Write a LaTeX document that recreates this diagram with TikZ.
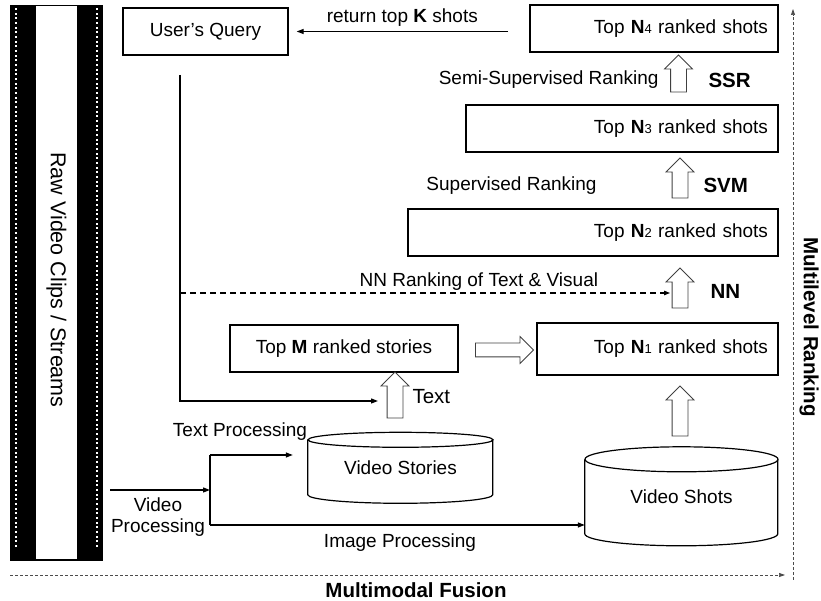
\documentclass[tikz,border=0pt]{standalone}
\usepackage{fontspec}
\setmainfont{Liberation Sans}
\usepackage{tikz}
\usetikzlibrary{arrows.meta,shapes.arrows}

\newcommand{\Nk}[1]{\textbf{N}{\fontsize{13}{13}\selectfont #1}}

\begin{document}
\begin{tikzpicture}[x=1pt, y=1pt,
  every node/.style={font=\fontsize{19}{22}\selectfont},
  box/.style={draw, line width=1.3pt, minimum height=47pt, inner sep=0pt},
  rankbox/.style={box, align=right, inner xsep=10pt},
  fat/.style={single arrow, draw=black!75, line width=0.8pt, inner xsep=0pt,
    inner ysep=7.5pt, single arrow head extend=6pt},
  fatup/.style={fat, rotate=90},
  arr/.style={line width=1.2pt, -{Triangle[length=7pt,width=5pt]}},
  fine/.style={line width=0.7pt, black!70, dash pattern=on 3pt off 2pt,
    -{Triangle[length=6pt,width=4pt]}},
  lbl/.style={font=\fontsize{20.5}{24}\selectfont\bfseries}]
  \useasboundingbox (0,0) rectangle (821,601);

  % Film strip on the left
  \node[fill=black, minimum width=93pt, minimum height=556pt, inner sep=0pt] (strip) at (56.5,318) {};
  \fill[white] (36,41.5) rectangle (77,594.5);
  \foreach \i in {0,...,115} {
    \fill[white] (15,{593-\i*4.67}) rectangle ++(2,-2);
    \fill[white] (96,{593-\i*4.67}) rectangle ++(2,-2);
  }
  \node[rotate=-90, font=\fontsize{21.5}{24}\selectfont] (film) at (56.5,321) {Raw Video Clips / Streams};

  % Boxes
  \node[box, minimum width=165pt] (query) at (205.5,569.5) {User's Query};
  \node[rankbox, text width=228pt] (n4) at (654,572.5) {Top \Nk{4} ranked shots};
  \node[rankbox, text width=292pt] (n3) at (622,472.5) {Top \Nk{3} ranked shots};
  \node[rankbox, text width=350pt] (n2) at (593,368.5) {Top \Nk{2} ranked shots};
  \node[rankbox, text width=221pt, minimum height=52pt] (n1) at (657.5,252) {Top \Nk{1} ranked shots};
  \node[box, minimum width=228pt] (topm) at (344,252.5) {Top \textbf{M} ranked stories};

  % Databases
  \node[minimum width=185pt, minimum height=71pt, inner sep=0pt] (stories) at (400.5,133) {Video Stories};
  \draw[line width=1.2pt] ([yshift=-7.5pt]stories.north west) -- ++(0,-55)
    arc[start angle=180, end angle=360, x radius=92.5pt, y radius=8.5pt] -- ++(0,55);
  \draw[line width=1.2pt] ([yshift=-7.5pt]stories.north) ellipse[x radius=92.5pt, y radius=7.5pt];
  \node[minimum width=193pt, minimum height=99pt, inner sep=0pt] (shots) at (681.5,104.5) {Video Shots};
  \draw[line width=1.2pt] ([yshift=-12.5pt]shots.north west) -- ++(0,-74.5)
    arc[start angle=180, end angle=360, x radius=96.5pt, y radius=12pt] -- ++(0,74.5);
  \draw[line width=1.2pt] ([yshift=-12.5pt]shots.north) ellipse[x radius=96.5pt, y radius=12.5pt];

  % Block arrows
  \node[fatup, minimum height=37pt] (ssr) at (678.5,523.5) {};
  \node[fatup, minimum height=40pt] (svm) at (680,419) {};
  \node[fatup, minimum height=40pt] (nn) at (680,309) {};
  \node[fatup, minimum height=50pt] (shotsup) at (680,186) {};
  \node[fatup, minimum height=46pt] (textup) at (395,202) {};
  \node[fat, minimum height=58pt, inner ysep=6.5pt, single arrow head extend=6.5pt] (fuse) at (501,251) {};

  % Labels of the ranking steps
  \node[lbl, anchor=west] (ssrlbl) at (705,521) {SSR};
  \node[anchor=east] (semi) at (662,521) {Semi-Supervised Ranking};
  \node[lbl, anchor=west] (svmlbl) at (700,416) {SVM};
  \node (sup) at (511.5,415) {Supervised Ranking};
  \node[lbl, anchor=west] (nnlbl) at (707,310) {NN};
  \node[anchor=west, font=\fontsize{20.5}{24}\selectfont] (textlbl) at (409,204) {Text};

  % Query lines
  \coordinate (ret) at (508,569.5);
  \draw[arr] (ret) -- ([xshift=8pt]query.east)
    node[midway, above, yshift=1pt] {return top \textbf{K} shots};
  \coordinate (qdown) at (180,526);
  \coordinate (nnsplit) at (180,308);
  \coordinate (qin) at (378,200);
  \coordinate (nnin) at (670,308);
  \draw[arr] (qdown) |- (qin);
  \draw[line width=1.1pt, dash pattern=on 6pt off 4pt, -{Triangle[length=6pt,width=4.5pt]}] (nnsplit) -- (nnin)
    node[pos=0.61, above, inner sep=2pt] {NN Ranking of Text \& Visual};

  % Video processing
  \coordinate (jtop) at (210,146);
  \coordinate (jbot) at (210,76);
  \coordinate (split) at (210,111);
  \draw[arr] (strip.east |- split) ++(7,0) -- (split);
  \draw[line width=1.2pt] (jtop) -- (jbot);
  \draw[arr] (jtop) -- ([xshift=-15pt]jtop -| stories.west);
  \draw[arr] (jbot) -- (jbot -| shots.west);
  \node (tproc) at (240,169) {Text Processing};
  \node[align=center, font=\fontsize{19}{21}\selectfont] (vproc) at (158,84) {Video\\Processing};
  \node (iproc) at (400,58) {Image Processing};

  % Axes
  \coordinate (fusionend) at (785,26);
  \coordinate (rankend) at (793,592);
  \draw[fine] (10,26) -- (fusionend);
  \draw[fine] (793,21) -- (rankend);
  \node[lbl] (fusion) at (416,11) {Multimodal Fusion};
  \node[lbl, rotate=-90, inner sep=1pt] (ranking) at (809,274) {Multilevel Ranking};
\end{tikzpicture}
\end{document}
